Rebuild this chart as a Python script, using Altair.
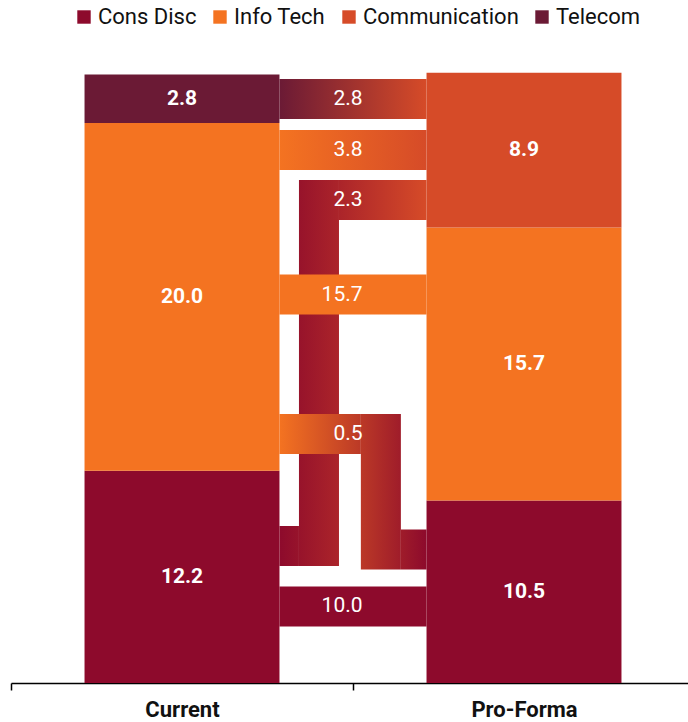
import altair as alt
import pandas as pd

# ---------------- data ----------------
sectors = ["Cons Disc", "Info Tech", "Communication", "Telecom"]
sector_colors = ["#8D0A2C", "#F47321", "#D64B28", "#6B1A35"]

scenarios = ["Current", "Pro-Forma"]
current_sectors = ["Cons Disc", "Info Tech", "Telecom"]
current_values = [12.2, 20.0, 2.8]
proforma_sectors = ["Cons Disc", "Info Tech", "Communication"]
proforma_values = [10.5, 15.7, 8.9]

flow_source = ["Telecom", "Info Tech", "Cons Disc", "Info Tech", "Info Tech", "Cons Disc"]
flow_target = ["Communication", "Communication", "Communication", "Info Tech", "Cons Disc", "Cons Disc"]
flow_values = [2.8, 3.8, 2.3, 15.7, 0.5, 10.0]

# ---------------- layout (axis units) ----------------
flow_out_level = [33.58, 30.65, 7.88, 22.34, 14.32, 4.40]   # lane centre where the flow leaves "Current"
flow_in_level = [33.58, 30.65, 27.77, 22.34, 7.68, 4.40]    # lane centre where the flow enters "Pro-Forma"
flow_turn_x = [None, None, 0.842, None, 1.023, None]         # left edge of the vertical lane of a routed flow
LANE_HALF = 1.15
LANE_W = 0.117
BAR_PAD = 0.215
X_MAX = 677 / 342
Y_MAX = 36
GAP_L = 1 - BAR_PAD
GAP_R = 1 + BAR_PAD
LABEL_X = 1.028

color_of = dict(zip(sectors, sector_colors))

xscale = alt.Scale(domain=[0, X_MAX], nice=False, zero=False)
yscale = alt.Scale(domain=[0, Y_MAX], nice=False, zero=False)
xaxis = alt.Axis(
    values=[0, 1], title=None,
    labelExpr=f"datum.value < 0.5 ? '{scenarios[0]}' : '{scenarios[1]}'",
    labelOffset=171, labelFlush=False, labelOverlap=False, labelBound=False,
    tickSize=7, tickColor="#000", tickWidth=1.5,
    domainColor="#000", domainWidth=1.5,
    labelFont="Roboto", labelFontWeight="bold", labelFontSize=22, labelColor="#111",
    labelPadding=9, grid=False,
)


def X(f):
    return alt.X(f, type="quantitative", scale=xscale, axis=xaxis)


def Y(f):
    return alt.Y(f, type="quantitative", scale=yscale, axis=None)


# ---------------- bars ----------------
rows = []
for i, (secs, vals) in enumerate([(current_sectors, current_values), (proforma_sectors, proforma_values)]):
    base = 0.0
    for s, v in zip(secs, vals):
        rows.append({"scenario": scenarios[i], "sector": s, "value": v,
                     "x0": i + BAR_PAD, "x1": i + 1 - BAR_PAD,
                     "y0": base, "y1": base + v,
                     "xm": i + 0.5, "ym": base + v / 2, "label": f"{v:.1f}"})
        base += v
bars_df = pd.DataFrame(rows)

bars = alt.Chart(bars_df).mark_rect().encode(
    x=X("x0"), x2="x1", y=Y("y0"), y2="y1",
    color=alt.Color("sector:N", scale=alt.Scale(domain=sectors, range=sector_colors),
                    legend=alt.Legend(title=None, orient="none", legendX=62, legendY=-51,
                                      direction="horizontal", symbolType="square",
                                      symbolSize=180, symbolStrokeWidth=0,
                                      labelFont="Roboto", labelFontSize=22, labelColor="#111",
                                      labelOffset=3, columnPadding=12, padding=0)),
)


# ---------------- flows ----------------
def hex2rgb(h):
    h = h.lstrip("#")
    return [int(h[k:k + 2], 16) for k in (0, 2, 4)]


def mix(c0, c1, t):
    a, b = hex2rgb(c0), hex2rgb(c1)
    t = min(max(t, 0.0), 1.0)
    return "#" + "".join(f"{round(a[k] + (b[k] - a[k]) * t):02x}" for k in range(3))


def tpos(x):
    return (x - GAP_L) / (GAP_R - GAP_L)


pieces = []
routed_first = sorted(range(len(flow_values)), key=lambda k: (flow_turn_x[k] is None, k))
for k in routed_first:
    c0, c1 = color_of[flow_source[k]], color_of[flow_target[k]]
    o, n, tx = flow_out_level[k], flow_in_level[k], flow_turn_x[k]
    if tx is None:
        segs = [(GAP_L, GAP_R, o - LANE_HALF, o + LANE_HALF)]
    else:
        segs = [(GAP_L, tx, o - LANE_HALF, o + LANE_HALF),
                (tx, tx + LANE_W, min(o, n) - LANE_HALF, max(o, n) + LANE_HALF),
                (tx + LANE_W, GAP_R, n - LANE_HALF, n + LANE_HALF)]
    for xa, xb, ya, yb in segs:
        pieces.append(({"x0": xa, "x1": xb, "y0": ya, "y1": yb},
                       mix(c0, c1, tpos(xa)), mix(c0, c1, tpos(xb))))

flow_layers = []
for p, ca, cb in pieces:
    grad = {"gradient": "linear", "x1": 0, "x2": 1, "y1": 0, "y2": 0,
            "stops": [{"offset": 0, "color": ca}, {"offset": 1, "color": cb}]}
    flow_layers.append(
        alt.Chart(pd.DataFrame([p])).mark_rect(fill=grad).encode(
            x=X("x0"), x2="x1", y=Y("y0"), y2="y1")
    )

flow_lbl_df = pd.DataFrame({
    "xm": [LABEL_X] * len(flow_values),
    "ym": [max(a, b) for a, b in zip(flow_out_level, flow_in_level)],
    "label": [f"{v:.1f}" for v in flow_values],
})

bar_labels = alt.Chart(bars_df).mark_text(
    font="Roboto", fontWeight="bold", fontSize=21, color="white", align="center", baseline="middle"
).encode(x=X("xm"), y=Y("ym"), text="label:N")

flow_labels = alt.Chart(flow_lbl_df).mark_text(
    font="Roboto", fontSize=21, color="white", align="right", baseline="middle"
).encode(x=X("xm"), y=Y("ym"), text="label:N")

chart = alt.layer(bars, *flow_layers, bar_labels, flow_labels).properties(
    width=677, height=626,
    autosize=alt.AutoSizeParams(type="none"),
    padding={"left": 11, "top": 57, "right": 0, "bottom": 39},
).configure_view(stroke=None)

chart.save("out.html", embed_options={"renderer": "svg", "actions": False})
